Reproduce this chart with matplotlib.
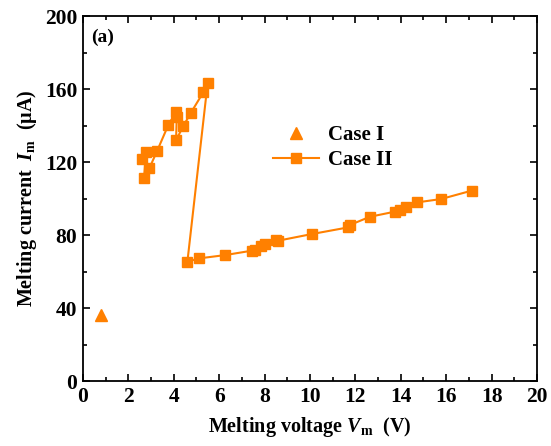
import matplotlib
matplotlib.use("Agg")
import matplotlib.pyplot as plt
from matplotlib.ticker import MultipleLocator

plt.rcParams['font.family'] = ['Liberation Serif', 'DejaVu Serif']
plt.rcParams['font.weight'] = 'bold'
plt.rcParams['mathtext.fontset'] = 'custom'
plt.rcParams['mathtext.rm'] = 'Liberation Serif:bold'
plt.rcParams['mathtext.it'] = 'Liberation Serif:italic:bold'
plt.rcParams['mathtext.bf'] = 'Liberation Serif:bold'

case1_v = [0.78]
case1_i = [36.2]

case2_v = [2.69, 2.78, 2.58, 2.92, 3.27, 3.76, 4.08, 4.13, 4.10, 4.42, 4.74, 5.30, 5.49,
           4.60, 5.12, 6.26, 7.43, 7.58, 7.83, 8.02, 8.50, 8.60, 10.07, 11.69, 11.76,
           12.64, 13.74, 13.96, 14.23, 14.73, 15.77, 17.12]
case2_i = [111.0, 125.6, 121.5, 116.5, 126.2, 140.3, 147.2, 144.8, 132.0, 139.7, 146.7, 158.2, 163.1,
           65.4, 67.2, 69.0, 71.4, 71.8, 74.0, 75.0, 77.3, 76.9, 80.5, 84.2, 85.5,
           90.0, 92.8, 93.7, 95.2, 97.9, 99.7, 104.3]

orange = '#FF8000'

fig = plt.figure(figsize=(5.51, 4.46), dpi=100)
ax = fig.add_axes([0.1506, 0.1457, 0.824, 0.8184])

ax.plot(case1_v, case1_i, linestyle='none', marker='^', markersize=8.5,
        color=orange, label='Case I')
ax.plot(case2_v, case2_i, linestyle='-', linewidth=1.5, marker='s', markersize=7.5,
        color=orange, label='Case II')

ax.set_xlim(0, 20)
ax.set_ylim(0, 200)
ax.xaxis.set_major_locator(MultipleLocator(2))
ax.xaxis.set_minor_locator(MultipleLocator(1))
ax.yaxis.set_major_locator(MultipleLocator(40))
ax.yaxis.set_minor_locator(MultipleLocator(20))
ax.tick_params(which='both', direction='in', top=True, right=True, width=1.2)
ax.tick_params(which='major', length=5, labelsize=15.5, pad=4)
ax.tick_params(which='minor', length=3)
for sp in ax.spines.values():
    sp.set_linewidth(1.3)
for lab in ax.get_xticklabels() + ax.get_yticklabels():
    lab.set_fontweight('bold')

ax.set_xlabel(r'Melting voltage $V_{\mathrm{m}}$  (V)', fontsize=14.5, fontweight='bold', labelpad=6)
ax.set_ylabel(r'Melting current  $I_{\mathrm{m}}$  (μA)', fontsize=14.5, fontweight='bold', labelpad=4)

ax.text(0.018, 0.965, '(a)', transform=ax.transAxes, fontsize=14, fontweight='bold',
        va='top', ha='left')

leg = ax.legend(loc='upper left', bbox_to_anchor=(0.378, 0.753), frameon=False,
                handlelength=2.2, handletextpad=0.4, labelspacing=0.25,
                prop={'weight': 'bold', 'size': 15})

fig.savefig('out.png', dpi=100, facecolor='white')
